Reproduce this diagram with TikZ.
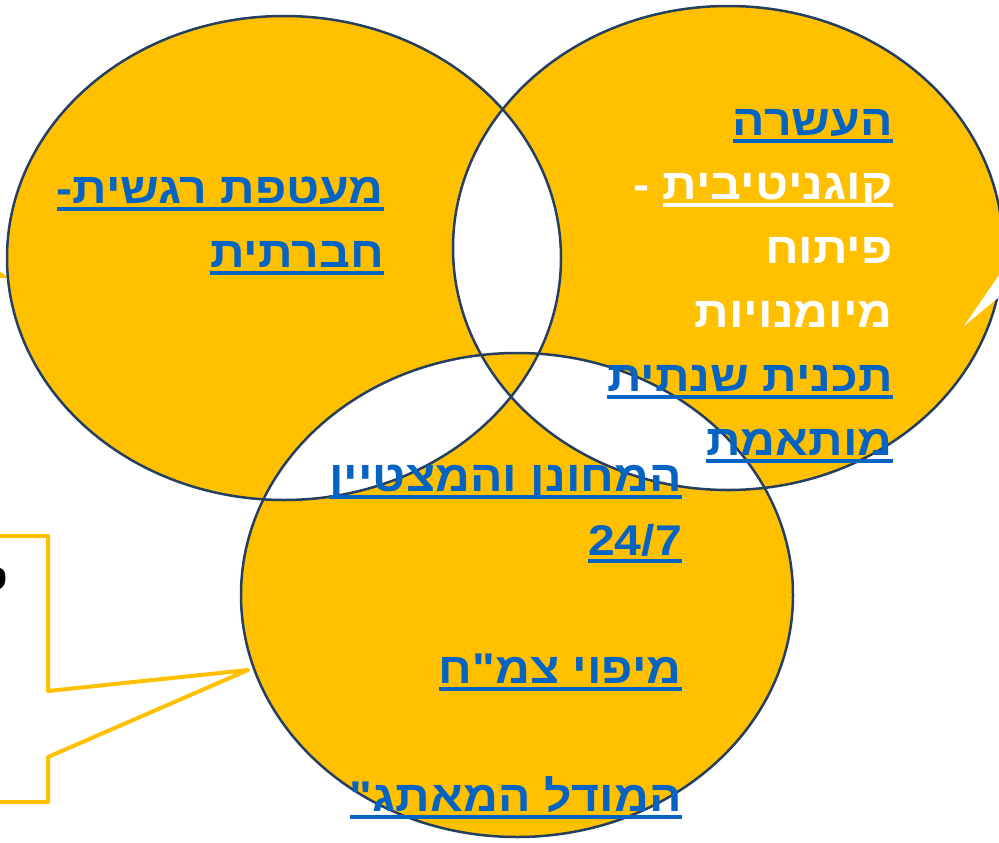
\documentclass[tikz,border=0pt]{standalone}
\usepackage{fontspec}
\setmainfont{Liberation Sans}
\newfontfamily\hebfont[Script=Hebrew,FakeStretch=1.12]{Liberation Sans}
\newfontfamily\latfont[FakeStretch=1.12]{Liberation Sans}
\TeXXeTstate=1
\definecolor{venn}{HTML}{FFC000}
\definecolor{edge}{HTML}{243F60}
\definecolor{link}{HTML}{0563C1}
\newcommand\ulword[1]{\setbox0\hbox{\color{link}\beginR#1\endR}\hbox{\rlap{\color{link}\rule[-8pt]{\wd0}{4pt}}\box0}}
\newcommand\ulwordL[1]{\setbox0\hbox{\color{link}\latfont\bfseries#1}\hbox{\rlap{\color{link}\rule[-8pt]{\wd0}{4pt}}\box0}}
\tikzset{
  txt/.style={anchor=base east, inner sep=0pt, font=\hebfont\bfseries\fontsize{43}{50}\selectfont},
  vennedge/.style={draw=edge, line width=2.5pt},
}
\begin{document}
\begin{tikzpicture}[x=1pt,y=-1pt]
\useasboundingbox (0,0) rectangle (999,843);
\clip (0,0) rectangle (999,843);
% small pointer at far left
\fill[venn] (-2,270) -- (9,278) -- (-2,278) -- cycle;
% left callout
\draw[venn, line width=4pt, fill=white, line join=round] (-10,536) -- (48,536) -- (48,691) -- (248,670) -- (48,757) -- (48,802) -- (-10,802);
\node[anchor=base east, inner sep=0pt, font=\hebfont\bfseries\fontsize{38}{46}\selectfont] (cl) at (8,590) {ס};
% venn fill
\fill[venn, even odd rule] (284,258) ellipse [x radius=277pt, y radius=242pt]
  (728,248) ellipse [x radius=275pt, y radius=242pt]
  (517,595) ellipse [x radius=276pt, y radius=242pt];
\draw[vennedge] (284,258) ellipse [x radius=277pt, y radius=242pt];
\draw[vennedge] (728,248) ellipse [x radius=275pt, y radius=242pt];
\draw[vennedge] (517,595) ellipse [x radius=276pt, y radius=242pt];
% right white pointer
\fill[white] (1010,259) -- (964,326) -- (1010,288) -- cycle;
% right ellipse text
\node[txt] (r1) at (893,135) {\ulword{העשרה}};
\node[txt] (r2) at (893,199) {\beginR\ulword{קוגניטיבית} \textcolor{white}{-}\endR};
\node[txt,text=white] (r3) at (893,263) {\beginR פיתוח\endR};
\node[txt,text=white] (r4) at (893,327) {\beginR מיומנויות\endR};
\node[txt] (r5) at (893,391) {\ulword{תכנית שנתית}};
\node[txt] (r6) at (893,455) {\ulword{מותאמת}};
% left ellipse text
\node[txt] (l1) at (384,203) {\ulword{מעטפת רגשית-}};
\node[txt] (l2) at (384,267) {\ulword{חברתית}};
% bottom ellipse text
\node[txt] (b1) at (682,491) {\ulword{המחונן והמצטיין}};
\node[txt] (b2) at (682,555) {\ulwordL{24/7}};
\node[txt] (b3) at (682,683) {\ulword{מיפוי צמ"ח}};
\node[txt] (b4) at (682,811) {\ulword{המודל המאתג"}};
\end{tikzpicture}
\end{document}
